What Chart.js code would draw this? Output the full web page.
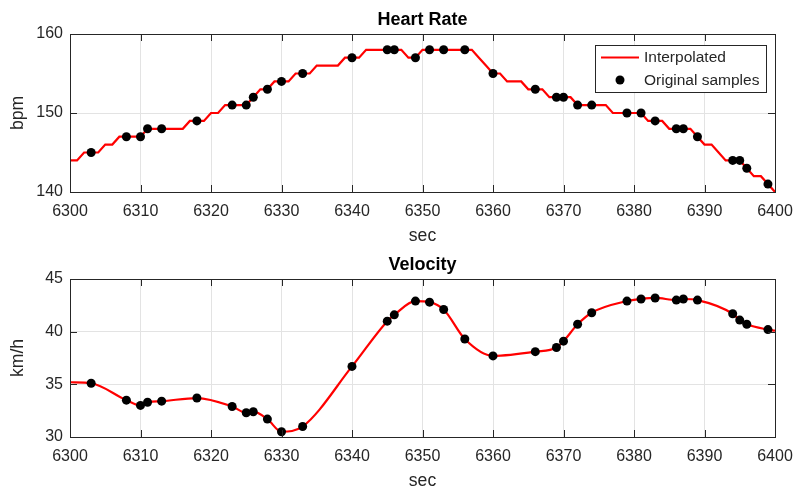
<!DOCTYPE html>
<html>
<head>
<meta charset="utf-8">
<script src="https://cdn.jsdelivr.net/npm/chart.js@4.4.1/dist/chart.umd.min.js"></script>
<style>
  html, body { margin: 0; padding: 0; background: #ffffff; }
  #wrap { width: 794px; height: 490px; position: relative; }
  .box { width: 794px; height: 245px; position: relative; }
  canvas { display: block; }
</style>
</head>
<body>
<div id="wrap">
  <div class="box"><canvas id="hr" width="794" height="245"></canvas></div>
  <div class="box"><canvas id="vel" width="794" height="245"></canvas></div>
</div>
<script>
// ---------- data ----------
const interpSec = [6300,6301,6302,6303,6304,6305,6306,6307,6308,6309,
  6310,6311,6312,6313,6314,6315,6316,6317,6318,6319,
  6320,6321,6322,6323,6324,6325,6326,6327,6328,6329,
  6330,6331,6332,6333,6334,6335,6336,6337,6338,6339,
  6340,6341,6342,6343,6344,6345,6346,6347,6348,6349,
  6350,6351,6352,6353,6354,6355,6356,6357,6358,6359,
  6360,6361,6362,6363,6364,6365,6366,6367,6368,6369,
  6370,6371,6372,6373,6374,6375,6376,6377,6378,6379,
  6380,6381,6382,6383,6384,6385,6386,6387,6388,6389,
  6390,6391,6392,6393,6394,6395,6396,6397,6398,6399,6400];
const hrInterp = [144,144,145,145,145,146,146,147,147,147,
  147,148,148,148,148,148,148,149,149,149,
  150,150,151,151,151,151,152,153,153,154,
  154,154,155,155,155,156,156,156,156,157,
  157,157,158,158,158,158,158,158,157,157,
  158,158,158,158,158,158,158,158,157,156,
  155,155,154,154,154,153,153,153,152,152,
  152,152,151,151,151,151,151,150,150,150,
  150,150,149,149,149,148,148,148,148,147,
  146,146,145,144,144,144,143,142,142,141,140];

const sampleSec = [6303,6308,6310,6311,6313,6318,6323,6325,6326,6328,6330,6333,
  6340,6345,6346,6349,6351,6353,6356,6360,6366,6369,6370,6372,6374,
  6379,6381,6383,6386,6387,6389,6394,6395,6396,6399];
const hrSamples = [145,147,147,148,148,149,151,151,152,153,154,155,
  157,158,158,157,158,158,158,155,153,152,152,151,151,
  150,150,149,148,148,147,144,144,143,141];
const velSamples = [35.1,33.5,33.0,33.3,33.4,33.7,32.9,32.3,32.4,31.7,30.5,31.0,
  36.7,41.0,41.6,42.9,42.8,42.1,39.3,37.7,38.1,38.5,39.1,40.7,41.8,
  42.9,43.1,43.2,43.0,43.1,43.0,41.7,41.1,40.7,40.2];
// velocity curve end points (at the axis limits)
const velCurveSec = [6300, 6400];
const velCurveVal = [35.2, 40.1];

const xTicks = [6300,6310,6320,6330,6340,6350,6360,6370,6380,6390,6400];
const hrTicks = [140,150,160];
const velTicks = [30,35,40,45];

// ---------- style ----------
const FONT = "'Liberation Sans', Arial, Helvetica, sans-serif";
const AXC = '#262626';
const GRIDC = '#e3e3e3';

function pts(xs, ys) { return xs.map((x, i) => ({x: x, y: ys[i]})); }

const boxTicks = {
  id: 'boxTicks',
  afterDraw(chart) {
    const ctx = chart.ctx, ca = chart.chartArea;
    const xs = chart.scales.x, ys = chart.scales.y;
    const L = 7;
    ctx.save();
    ctx.strokeStyle = AXC;
    ctx.lineWidth = 1;
    ctx.beginPath();
    xs.ticks.forEach(t => {
      const p = Math.round(xs.getPixelForValue(t.value)) + 0.5;
      ctx.moveTo(p, ca.bottom); ctx.lineTo(p, ca.bottom - L);
      ctx.moveTo(p, ca.top); ctx.lineTo(p, ca.top + L);
    });
    ys.ticks.forEach(t => {
      const p = Math.round(ys.getPixelForValue(t.value)) + 0.5;
      ctx.moveTo(ca.left, p); ctx.lineTo(ca.left + L, p);
      ctx.moveTo(ca.right, p); ctx.lineTo(ca.right - L, p);
    });
    ctx.stroke();
    ctx.strokeRect(Math.round(ca.left) + 0.5, Math.round(ca.top) + 0.5,
      Math.round(ca.right - ca.left), Math.round(ca.bottom - ca.top));
    ctx.restore();
  }
};

const legendBox = {
  id: 'legendBox',
  afterDraw(chart) {
    if (!chart.options.plugins.legendBox || !chart.options.plugins.legendBox.show) return;
    const ctx = chart.ctx;
    const ds = chart.data.datasets;
    ctx.save();
    ctx.fillStyle = '#ffffff';
    ctx.fillRect(595.5, 45.5, 171, 47);
    ctx.strokeStyle = AXC;
    ctx.lineWidth = 1;
    ctx.strokeRect(595.5, 45.5, 171, 47);
    ctx.strokeStyle = '#ff0000';
    ctx.lineWidth = 2;
    ctx.beginPath(); ctx.moveTo(601, 57.5); ctx.lineTo(639, 57.5); ctx.stroke();
    ctx.fillStyle = '#000000';
    ctx.beginPath(); ctx.arc(620, 80, 4.5, 0, Math.PI * 2); ctx.fill();
    ctx.font = '15.5px ' + FONT;
    ctx.fillStyle = AXC;
    ctx.textBaseline = 'middle';
    ctx.textAlign = 'left';
    ctx.fillText(ds[0].label, 644, 57.5);
    ctx.fillText(ds[1].label, 644, 80.5);
    ctx.restore();
  }
};

function makeChart(id, title, yTitle, lineData, sampleData, yMin, yMax, yTickList, smooth, legend) {
  return new Chart(document.getElementById(id), {
    type: 'line',
    data: {
      datasets: [
        {
          label: 'Interpolated',
          data: lineData,
          borderColor: '#ff0000',
          borderWidth: 2.2,
          pointRadius: 0,
          fill: false,
          tension: 0,
          cubicInterpolationMode: smooth ? 'monotone' : 'default',
          order: 2
        },
        {
          label: 'Original samples',
          data: sampleData,
          showLine: false,
          pointRadius: 4.5,
          pointBackgroundColor: '#000000',
          pointBorderColor: '#000000',
          pointBorderWidth: 0,
          order: 1
        }
      ]
    },
    options: {
      responsive: false,
      animation: false,
      devicePixelRatio: 1,
      layout: { padding: { left: 0, right: 19, top: 0, bottom: 0 } },
      plugins: {
        legend: { display: false },
        tooltip: { enabled: false },
        legendBox: { show: legend },
        title: {
          display: true,
          text: title,
          fullSize: false,
          color: '#000000',
          font: { family: FONT, size: 18, weight: 'bold' },
          padding: { top: 9, bottom: 3.4 }
        }
      },
      scales: {
        x: {
          type: 'linear',
          min: 6300, max: 6400,
          afterFit(s) { s.height = 53; s.paddingLeft = 0; s.paddingRight = 0; },
          afterBuildTicks(s) { s.ticks = xTicks.map(v => ({value: v})); },
          ticks: {
            color: AXC,
            font: { family: FONT, size: 16 },
            padding: 10,
            maxRotation: 0,
            autoSkip: false,
            callback: v => String(v)
          },
          grid: { color: GRIDC, lineWidth: 1, drawTicks: false },
          border: { display: false },
          title: {
            display: true, text: 'sec', color: AXC,
            font: { family: FONT, size: 17.6 },
            padding: { top: 0, bottom: -2 }
          }
        },
        y: {
          type: 'linear',
          min: yMin, max: yMax,
          afterFit(s) { s.width = 70; s.paddingTop = 0; s.paddingBottom = 0; },
          afterBuildTicks(s) { s.ticks = yTickList.map(v => ({value: v})); },
          ticks: {
            color: AXC,
            font: { family: FONT, size: 16 },
            padding: 7,
            callback: v => String(v)
          },
          grid: { color: GRIDC, lineWidth: 1, drawTicks: false },
          border: { display: false },
          title: {
            display: true, text: yTitle, color: AXC,
            font: { family: FONT, size: 17.6 },
            padding: { top: 8, bottom: 0 }
          }
        }
      }
    },
    plugins: [boxTicks, legendBox]
  });
}

const hrLine = pts(interpSec, hrInterp);
const hrPts = pts(sampleSec, hrSamples);
const velLine = [{x: velCurveSec[0], y: velCurveVal[0]}]
  .concat(pts(sampleSec, velSamples))
  .concat([{x: velCurveSec[1], y: velCurveVal[1]}]);
const velPts = pts(sampleSec, velSamples);

makeChart('hr', 'Heart Rate', 'bpm', hrLine, hrPts, 140, 160, hrTicks, false, true);
makeChart('vel', 'Velocity', 'km/h', velLine, velPts, 30, 45, velTicks, true, false);
</script>
</body>
</html>
